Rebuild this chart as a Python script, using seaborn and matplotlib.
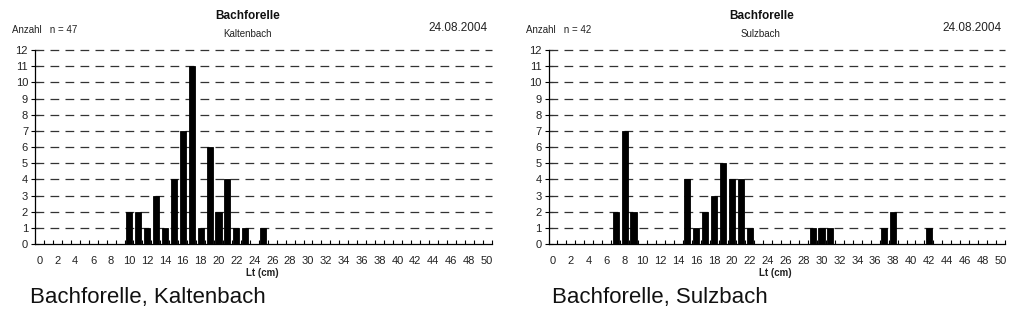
import numpy as np
import pandas as pd
import matplotlib
matplotlib.use("Agg")
import matplotlib.pyplot as plt
import seaborn as sns
from matplotlib.ticker import FixedLocator

# ---- data ----
lengths = list(range(0, 51))
kalten_len = [10, 11, 12, 13, 14, 15, 16, 17, 18, 19, 20, 21, 22, 23, 25]
kalten_cnt = [2, 2, 1, 3, 1, 4, 7, 11, 1, 6, 2, 4, 1, 1, 1]
sulz_len = [7, 8, 9, 15, 16, 17, 18, 19, 20, 21, 22, 29, 30, 31, 37, 38, 42]
sulz_cnt = [2, 7, 2, 4, 1, 2, 3, 5, 4, 4, 1, 1, 1, 1, 1, 2, 1]
x_tick_labels = [str(v) for v in range(0, 51, 2)]
y_ticks = list(range(0, 13))

panels = [
    dict(lens=kalten_len, cnts=kalten_cnt, site="Kaltenbach", n="Anzahl   n = 47",
         caption="Bachforelle, Kaltenbach", x0=35, cap_x=30),
    dict(lens=sulz_len, cnts=sulz_cnt, site="Sulzbach", n="Anzahl   n = 42",
         caption="Bachforelle, Sulzbach", x0=548.5, cap_x=552),
]

sns.set_theme(style="white")
plt.rcParams["font.family"] = ["Liberation Sans", "DejaVu Sans"]

W, H = 1024, 310
fig = plt.figure(figsize=(W / 100, H / 100), dpi=100)

def fx(px):
    return px / W

def fy(py):
    return 1 - py / H

for p in panels:
    counts = dict(zip(p["lens"], p["cnts"]))
    df = pd.DataFrame({"Lt": lengths, "Anzahl": [counts.get(l, 0) for l in lengths]})
    ax_w = 456.5
    ax = fig.add_axes([fx(p["x0"]), fy(244), fx(ax_w), (244 - 50) / H])
    sns.barplot(data=df, x="Lt", y="Anzahl", order=lengths, color="black",
                width=0.68, saturation=1, ax=ax, zorder=3,
                edgecolor="black", linewidth=0.6)
    ax.set_xlim(-0.5, 50.5)
    ax.set_ylim(0, 12)
    ax.set_yticks(y_ticks)
    ax.set_yticklabels([str(v) for v in y_ticks], fontsize=8)
    ax.set_xticks(list(range(0, 51, 2)))
    ax.set_xticklabels(x_tick_labels, fontsize=8)
    ax.xaxis.set_minor_locator(FixedLocator([k - 0.5 for k in range(0, 52)]))
    ax.tick_params(axis="x", which="major", length=0, pad=9, colors="#222")
    ax.tick_params(axis="x", which="minor", direction="in", length=3, width=0.8,
                   color="black", bottom=True)
    ax.tick_params(axis="y", which="major", direction="inout", length=6, width=0.8,
                   color="black", left=True, pad=2, colors="#222")
    ax.tick_params(axis="y", colors="black", labelcolor="#222")
    ax.set_xlabel("")
    ax.set_ylabel("")
    for s in ["top", "right"]:
        ax.spines[s].set_visible(False)
    for s in ["left", "bottom"]:
        ax.spines[s].set_color("black")
        ax.spines[s].set_linewidth(0.9)
    for v in y_ticks[1:]:
        ax.axhline(v, color="#333333", linewidth=0.9, linestyle=(0, (7, 5)),
                   zorder=1, clip_on=False)

    off = p["x0"] - 35
    fig.text(fx(248 + off), fy(16), "Bachforelle", fontsize=8.5, fontweight="bold",
             ha="center", va="center", color="#111")
    fig.text(fx(247 + off), fy(34), p["site"], fontsize=7, ha="center", va="center",
             color="#222")
    fig.text(fx(12 + off), fy(30), p["n"], fontsize=7, ha="left", va="center",
             color="#222")
    fig.text(fx(488 + off), fy(28), "24.08.2004", fontsize=8.5, ha="right",
             va="center", color="#222")
    fig.text(fx(262 + off), fy(273), "Lt (cm)", fontsize=7, fontweight="bold",
             ha="center", va="center", color="#222")
    fig.text(fx(p["cap_x"]), fy(298), p["caption"], fontsize=16, ha="left",
             va="center", color="#111")

fig.savefig("out.png", dpi=100, facecolor="white")
